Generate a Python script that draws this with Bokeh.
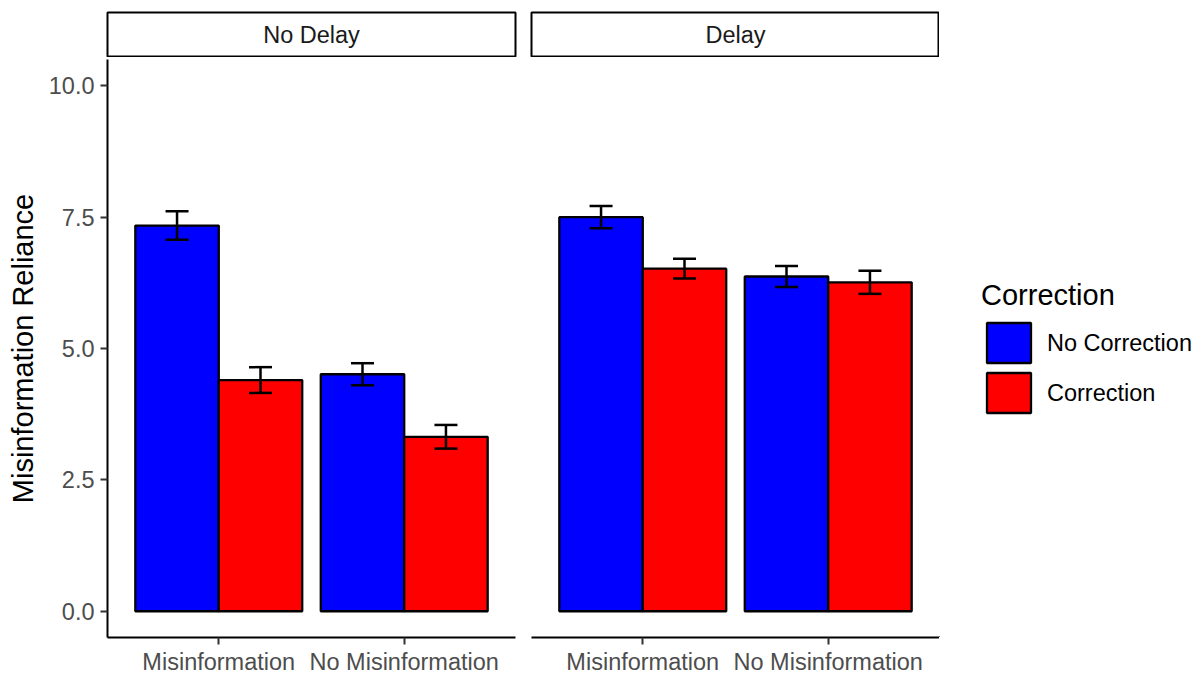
from bokeh.plotting import figure
from bokeh.models import (FactorRange, Range1d, FixedTicker, PrintfTickFormatter,
                          Whisker, TeeHead, ColumnDataSource, Legend, LegendItem)
from bokeh.transform import dodge
from bokeh.layouts import row, column
from bokeh.embed import file_html
from bokeh.resources import INLINE
from bokeh.core.properties import value

# ---------------- data ----------------
facets = ["No Delay", "Delay"]
conditions = ["Misinformation", "No Misinformation"]
corrections = ["No Correction", "Correction"]
colors = ["#0000FF", "#FF0000"]

nodelay_nocorr = [7.34, 4.51]
nodelay_corr = [4.40, 3.32]
nodelay_nocorr_err = [0.27, 0.21]
nodelay_corr_err = [0.245, 0.225]

delay_nocorr = [7.50, 6.37]
delay_corr = [6.52, 6.26]
delay_nocorr_err = [0.21, 0.20]
delay_corr_err = [0.19, 0.22]

y_ticks = [0.0, 2.5, 5.0, 7.5, 10.0]
y_title = "Misinformation Reliance"
legend_title = "Correction"

FONT = "Liberation Sans"
FRAME_W = 408
FRAME_H = 578
STRIP_H = 45
TOP = 12


def make_source(nocorr, corr, nocorr_err, corr_err):
    return ColumnDataSource(dict(
        cond=conditions,
        nocorr=nocorr, corr=corr,
        nocorr_lo=[m - e for m, e in zip(nocorr, nocorr_err)],
        nocorr_hi=[m + e for m, e in zip(nocorr, nocorr_err)],
        corr_lo=[m - e for m, e in zip(corr, corr_err)],
        corr_hi=[m + e for m, e in zip(corr, corr_err)],
    ))


def make_strip(name, left, right):
    s = figure(x_range=FactorRange(factors=[name]), y_range=Range1d(-1, 1),
               frame_width=FRAME_W, frame_height=STRIP_H,
               min_border_left=left, min_border_right=right,
               min_border_top=TOP, min_border_bottom=0,
               x_axis_location=None, y_axis_location=None,
               toolbar_location=None, output_backend="svg")
    s.grid.visible = False
    s.outline_line_color = "black"
    s.outline_line_width = 2
    s.background_fill_color = "white"
    s.border_fill_color = "white"
    s.text(x=[name], y=[0], text=[name], text_font=value(FONT),
           text_font_size="23.5px", text_color="#1A1A1A",
           text_align="center", text_baseline="middle")
    return s


def make_panel(src, left, right, with_y):
    xr = FactorRange(factors=conditions, range_padding=0.1,
                     range_padding_units="absolute")
    p = figure(x_range=xr, y_range=Range1d(-0.5, 10.5),
               frame_width=FRAME_W, frame_height=FRAME_H,
               min_border_left=left, min_border_right=right,
               min_border_top=2, min_border_bottom=0,
               y_axis_location="left" if with_y else None,
               toolbar_location=None, output_backend="svg")
    p.grid.visible = False
    p.outline_line_color = None
    p.background_fill_color = "white"
    p.border_fill_color = "white"

    for off, key, col in [(-0.225, "nocorr", colors[0]), (0.225, "corr", colors[1])]:
        p.vbar(x=dodge("cond", off, range=xr), top=key, bottom=0, width=0.45,
               source=src, fill_color=col, line_color="black", line_width=2.3)
        w = Whisker(base=dodge("cond", off, range=xr), upper=key + "_hi",
                    lower=key + "_lo", source=src, dimension="height",
                    line_color="black", line_width=2.5, level="overlay",
                    upper_head=TeeHead(size=23, line_color="black", line_width=2.5),
                    lower_head=TeeHead(size=23, line_color="black", line_width=2.5))
        p.add_layout(w)

    ax = p.xaxis[0]
    ax.axis_line_color = "black"
    ax.axis_line_width = 2
    ax.major_tick_line_color = "#333333"
    ax.major_tick_line_width = 2
    ax.major_tick_out = 7
    ax.major_tick_in = 0
    ax.minor_tick_line_color = None
    ax.major_label_standoff = 4
    ax.major_label_text_font = FONT
    ax.major_label_text_font_size = "23.5px"
    ax.major_label_text_color = "#4D4D4D"

    if with_y:
        ay = p.yaxis[0]
        ay.ticker = FixedTicker(ticks=y_ticks)
        ay.formatter = PrintfTickFormatter(format="%.1f")
        ay.axis_line_color = "black"
        ay.axis_line_width = 2
        ay.major_tick_line_color = "#333333"
        ay.major_tick_line_width = 2
        ay.major_tick_out = 7
        ay.major_tick_in = 0
        ay.minor_tick_line_color = None
        ay.major_label_standoff = 6
        ay.major_label_text_font = FONT
        ay.major_label_text_font_size = "23.5px"
        ay.major_label_text_color = "#4D4D4D"
        ay.axis_label = y_title
        ay.axis_label_text_font = FONT
        ay.axis_label_text_font_size = "29px"
        ay.axis_label_text_font_style = "normal"
        ay.axis_label_text_color = "black"
        ay.axis_label_standoff = 7
    return p


src1 = make_source(nodelay_nocorr, nodelay_corr, nodelay_nocorr_err, nodelay_corr_err)
src2 = make_source(delay_nocorr, delay_corr, delay_nocorr_err, delay_corr_err)

s1 = make_strip(facets[0], 107, 8)
p1 = make_panel(src1, 107, 8, True)
s2 = make_strip(facets[1], 8, 0)
p2 = make_panel(src2, 8, 0, False)

# legend figure (keys drawn by Bokeh's Legend)
lf = figure(x_range=Range1d(0, 1), y_range=Range1d(0, 1),
            frame_width=262, frame_height=FRAME_H,
            min_border_left=0, min_border_right=0,
            min_border_top=TOP + STRIP_H + 2, min_border_bottom=0,
            x_axis_location=None, y_axis_location=None,
            toolbar_location=None, output_backend="svg")
lf.grid.visible = False
lf.outline_line_color = None
lf.background_fill_color = "white"
lf.border_fill_color = "white"
lr = []
for col in colors:
    # off-screen proxy bars: only used to give the legend its keys
    lr.append(lf.vbar(x=[-5.0], top=[-5.0], bottom=[-6.0], width=0.45, fill_color=col,
                      line_color="black", line_width=2.3))
legend = Legend(items=[LegendItem(label=corrections[i], renderers=[lr[i]]) for i in range(2)],
                location="center_left", margin=42, padding=0, spacing=0,
                glyph_width=55, glyph_height=50, label_standoff=11,
                label_text_font=FONT, label_text_font_size="23.5px",
                label_text_color="black",
                title=legend_title, title_text_font=FONT, title_text_font_size="29px",
                title_text_font_style="normal", title_text_color="black",
                title_standoff=6,
                border_line_color=None, background_fill_alpha=0)
lf.add_layout(legend)

layout = row(column(s1, p1), column(s2, p2), lf)

open("out.html", "w").write(file_html(layout, INLINE))
